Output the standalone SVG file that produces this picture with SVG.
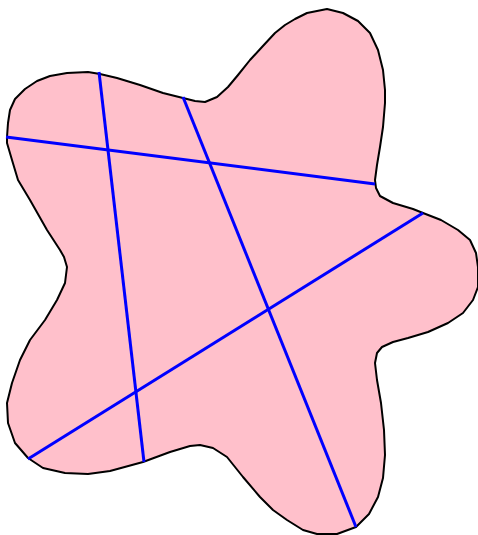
<svg xmlns="http://www.w3.org/2000/svg" width="478" height="535" viewBox="0 0 478 535">
<style>
.blob{fill:#ffc0cb;stroke:#000;stroke-width:2;stroke-linejoin:round}
.ln{stroke:#0000ff;stroke-width:3;fill:none}
</style>
<g id="shape">
<polygon class="blob" points="7,137 8,123 10,110 15,99 25,89 37,81 50,76 67,73 88,72 100,74 117,78 140,85 163,93 183,98 195,101 205,102 217,97 228,87 238,75 250,60 262,47 275,33 285,25 295,19 307,13 327,9 343,13 358,21 370,33 378,50 383,70 385,90 385,103 383,127 380,147 377,165 375,180 376,188 380,196 393,203 413,209 423,213 441,220 458,230 470,240 476,253 478,267 478,287 473,300 463,313 448,323 428,332 408,338 393,342 382,347 377,353 375,363 377,380 381,403 384,430 385,455 383,478 378,497 369,514 356,527 337,534 317,534 303,530 287,520 273,510 260,497 243,477 227,457 213,448 200,445 190,446 170,452 143,462 110,471 88,474 65,473 43,468 28,458 15,443 8,423 7,403 12,383 20,360 30,340 45,320 57,300 65,283 67,267 64,257 60,250 47,230 30,200 18,180 12,160 7,143"/>
</g>
<g id="lines">
<line class="ln" x1="6" y1="137" x2="375" y2="184"/>
<line class="ln" x1="99" y1="72" x2="144" y2="462"/>
<line class="ln" x1="183" y1="97" x2="356" y2="527"/>
<line class="ln" x1="28" y1="459" x2="423" y2="213"/>
</g>
</svg>
